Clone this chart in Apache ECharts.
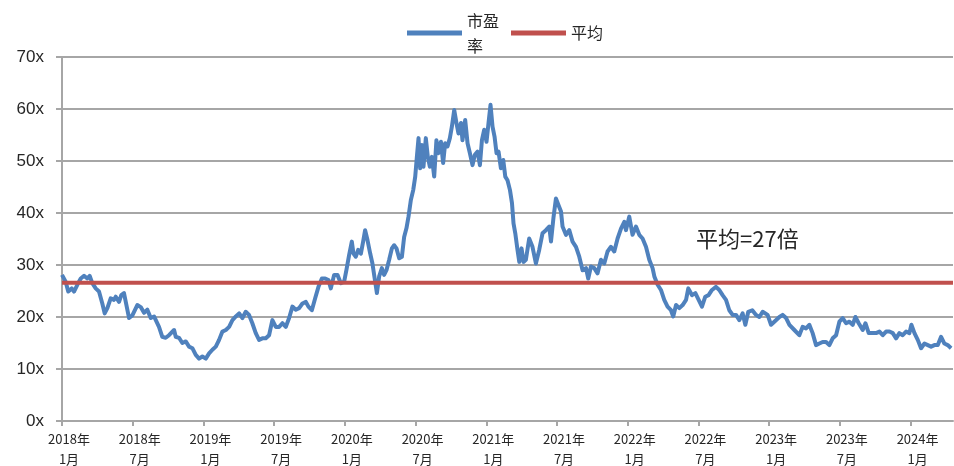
<!DOCTYPE html>
<html>
<head>
<meta charset="utf-8">
<script src="https://cdn.jsdelivr.net/npm/echarts@6/dist/echarts.min.js"></script>
<style>
  html, body { margin: 0; padding: 0; background: #fff; }
  #chart { width: 954px; height: 466px; }
</style>
</head>
<body>
<div id="chart"></div>
<script>
// Months elapsed since January 2018 for each observation
const monthOffsets = [
  0, 0.31, 0.53, 0.82, 1.02, 1.30, 1.59, 1.87, 2.15, 2.35, 2.57, 2.86, 3.14, 3.42, 3.62, 3.85,
  4.13, 4.41, 4.56, 4.84, 5.03, 5.26, 5.69, 5.97, 6.39, 6.68, 6.96, 7.24, 7.53, 7.81, 8.23, 8.51,
  8.80, 9.08, 9.51, 9.65, 9.93, 10.21, 10.50, 10.78, 11.06, 11.35, 11.63, 11.91, 12.20, 12.48, 12.76, 13.05,
  13.33, 13.61, 13.90, 14.18, 14.46, 14.75, 15.03, 15.31, 15.59, 15.87, 16.15, 16.44, 16.72, 17.00, 17.29, 17.57,
  17.85, 18.14, 18.42, 18.70, 18.99, 19.27, 19.55, 19.84,
  20.12, 20.40, 20.69, 20.91, 21.20, 21.48, 21.76, 22.05, 22.33, 22.61, 22.81, 23.09, 23.37, 23.66, 23.94, 24.13,
  24.36, 24.59, 24.73, 24.93, 25.13, 25.36, 25.55, 25.72, 25.92, 26.15, 26.34, 26.55, 26.72, 26.91, 27.14, 27.33,
  27.53, 27.76, 27.99, 28.18, 28.38, 28.61, 28.84, 29.03, 29.23, 29.40, 29.60, 29.80, 29.97, 30.11, 30.25, 30.39,
  30.53, 30.67, 30.87, 31.04, 31.21, 31.38, 31.58, 31.77, 31.94, 32.15, 32.34, 32.51, 32.71, 32.91, 33.08, 33.28,
  33.47, 33.64, 33.85, 33.98, 34.21, 34.41, 34.61, 34.83, 35.03, 35.26, 35.46, 35.63, 35.82, 36.02, 36.19, 36.36,
  36.53, 36.70, 36.87, 37.04, 37.24, 37.44, 37.61, 37.80, 38.01, 38.18, 38.31, 38.46, 38.65, 38.80, 38.99, 39.16,
  39.36,
  39.64, 39.92, 40.21, 40.49, 40.77, 41.06, 41.34, 41.49, 41.71, 41.91, 42.13, 42.34, 42.47, 42.76, 43.04, 43.32,
  43.61, 43.89, 44.17, 44.46, 44.65, 44.88, 45.16, 45.44, 45.73, 46.01, 46.29, 46.58, 46.86, 47.14, 47.43, 47.71,
  47.85, 48.13, 48.41, 48.70, 48.98, 49.26, 49.55, 49.83, 50.11, 50.26, 50.54, 50.82, 51.10, 51.38, 51.67, 51.86,
  52.10, 52.38, 52.66, 52.95, 53.14, 53.46, 53.74, 54.02, 54.30, 54.58, 54.86, 55.15, 55.49, 55.77, 56.05, 56.34,
  56.62, 56.90, 57.19, 57.47, 57.75, 57.98, 58.23,
  58.57, 58.89, 59.17, 59.45, 59.87, 60.16, 60.44, 60.87, 61.15, 61.44, 61.72, 62.14, 62.56, 62.84, 63.13, 63.41,
  63.69, 63.98, 64.26, 64.54, 64.83, 65.11, 65.39, 65.68, 65.96, 66.24, 66.53, 66.81, 67.09, 67.32, 67.60, 67.94,
  68.17, 68.45, 68.79, 69.07, 69.36, 69.64, 69.92, 70.21, 70.49, 70.77, 71.05, 71.33, 71.62, 71.90, 72.07, 72.33,
  72.61, 72.89, 73.18, 73.46, 73.74, 74.02, 74.31, 74.59, 74.87, 75.15, 75.44
];

// Price-to-earnings multiple at each observation
const peValues = [
  28.1, 26.8, 24.9, 25.5, 24.9, 26.2, 27.4, 27.9, 27.4, 27.9, 26.5, 25.5, 24.9, 22.6, 20.7, 21.7,
  23.6, 23.3, 23.9, 22.9, 24.2, 24.6, 19.8, 20.3, 22.3, 21.9, 20.8, 21.4, 19.8, 20.1, 18.1, 16.2,
  16.0, 16.5, 17.5, 16.2, 16.0, 15.0, 15.3, 14.3, 14.0, 12.7, 12.0, 12.4, 12.0, 13.0, 13.7, 14.3,
  15.6, 17.2, 17.5, 18.1, 19.4, 20.1, 20.7, 19.8, 21.0, 20.4, 18.8, 16.9, 15.6, 15.9, 15.9, 16.5,
  19.4, 18.1, 18.1, 18.8, 18.1, 19.8, 22.0, 21.4,
  21.7, 22.6, 22.9, 22.0, 21.3, 23.6, 25.8, 27.4, 27.4, 27.1, 25.5, 28.1, 28.1, 26.5, 26.8, 29.0,
  31.9, 34.5, 32.2, 31.6, 32.9, 32.2, 34.5, 36.7, 34.8, 32.2, 30.3, 27.1, 24.6, 27.8, 29.4, 28.1,
  29.0, 31.0, 33.2, 33.8, 33.2, 31.3, 31.6, 35.4, 37.1, 39.3, 42.5, 44.4, 47.0, 50.8, 54.4, 48.6,
  53.1, 48.9, 54.4, 50.8, 48.9, 50.8, 47.0, 54.0, 51.5, 53.7, 49.6, 53.4, 52.8, 54.4, 56.6, 59.8,
  57.3, 55.3, 57.3, 54.0, 57.9, 53.4, 51.5, 49.2, 51.2, 51.8, 49.2, 54.0, 56.0, 53.7, 57.3, 60.8,
  56.6, 54.7, 51.5, 51.8, 48.6, 50.2, 47.0, 46.3, 44.4, 41.9, 38.0, 36.1, 32.9, 30.6, 33.2, 30.6,
  31.0,
  35.1, 33.5, 30.3, 32.9, 36.1, 36.7, 37.4, 34.5, 39.3, 42.8, 41.5, 40.3, 37.4, 35.8, 36.7, 34.5,
  33.5, 31.6, 29.0, 29.4, 27.4, 29.7, 29.4, 28.4, 31.0, 30.3, 32.6, 33.5, 32.6, 35.1, 37.0, 38.3,
  36.7, 39.3, 35.8, 37.4, 35.8, 35.1, 33.5, 31.0, 29.4, 27.8, 26.2, 25.2, 23.3, 22.0, 21.3, 20.1,
  22.3, 21.7, 22.3, 23.3, 25.5, 24.2, 24.6, 23.3, 22.0, 23.9, 24.2, 25.2, 25.8, 25.2, 24.2, 23.3,
  21.3, 20.4, 20.4, 19.4, 20.7, 18.5, 21.0,
  21.3, 20.4, 20.0, 21.0, 20.4, 18.5, 19.1, 20.0, 20.4, 19.8, 18.5, 17.5, 16.5, 18.1, 17.8, 18.5,
  16.9, 14.6, 14.9, 15.2, 15.2, 14.6, 15.9, 16.5, 19.1, 19.8, 18.8, 19.1, 18.5, 20.0, 18.8, 17.5,
  18.8, 16.9, 16.9, 16.9, 17.2, 16.5, 17.2, 17.2, 16.9, 15.9, 16.9, 16.5, 17.2, 16.9, 18.5, 16.9,
  15.6, 14.0, 14.9, 14.6, 14.3, 14.6, 14.6, 16.2, 14.9, 14.6, 14.0
];

// Long-run average multiple
const averagePE = 26.6;

// Axis settings
const startYear = 2018;
const axisEndMonth = 75.6;
const yTicks = [0, 10, 20, 30, 40, 50, 60, 70];

const seriesNames = ['市盈率', '平均'];

const peData = monthOffsets.map((m, i) => [m, peValues[i]]);
const avgData = [[0, averagePE], [axisEndMonth, averagePE]];

const chart = echarts.init(document.getElementById('chart'), null, { renderer: 'canvas' });

const gridColor = '#A6A6A6';
const textColor = '#262626';

chart.setOption({
  animation: false,
  backgroundColor: '#ffffff',
  legend: {
    top: 3,
    left: 402,
    itemGap: 12,
    itemWidth: 55,
    itemHeight: 5,
    icon: 'rect',
    data: seriesNames,
    formatter: name => name === '市盈率' ? '市盈\n率' : name,
    textStyle: {
      fontFamily: '"Noto Sans CJK SC", sans-serif',
      fontSize: 16,
      lineHeight: 25,
      color: textColor
    }
  },
  grid: { left: 62, right: 1, top: 57, bottom: 45, outerBoundsMode: 'none' },
  xAxis: {
    type: 'value',
    min: 0,
    max: axisEndMonth,
    interval: 6,
    splitLine: { show: false },
    axisLine: { lineStyle: { color: gridColor, width: 2 } },
    axisTick: { show: true, length: 5, lineStyle: { color: gridColor, width: 2 } },
    axisLabel: {
      margin: 8,
      showMaxLabel: false,
      fontFamily: '"Noto Sans CJK SC", sans-serif',
      fontSize: 13,
      lineHeight: 20,
      color: textColor,
      padding: [0, 0, 0, 14],
      formatter: v => {
        if (Math.abs(v - Math.round(v)) > 1e-6 || v > axisEndMonth - 1) return '';
        const year = startYear + Math.floor(v / 12);
        const month = (v % 12) + 1;
        return year + '年\n' + month + '月';
      }
    }
  },
  yAxis: {
    type: 'value',
    min: yTicks[0],
    max: yTicks[yTicks.length - 1],
    interval: 10,
    axisLine: { show: true, lineStyle: { color: gridColor, width: 2 } },
    axisTick: { show: true, length: 6, lineStyle: { color: gridColor, width: 2 } },
    splitLine: { show: true, lineStyle: { color: gridColor, width: 2 } },
    axisLabel: {
      margin: 18,
      fontFamily: '"Liberation Sans", Arial, sans-serif',
      fontSize: 17,
      color: textColor,
      formatter: v => v + 'x'
    }
  },
  series: [
    {
      name: seriesNames[0],
      type: 'line',
      data: peData,
      showSymbol: false,
      symbol: 'none',
      lineStyle: { color: '#4F81BD', width: 4, join: 'round' },
      itemStyle: { color: '#4F81BD' },
      z: 2
    },
    {
      name: seriesNames[1],
      type: 'line',
      data: avgData,
      showSymbol: false,
      symbol: 'none',
      lineStyle: { color: '#C0504D', width: 4 },
      itemStyle: { color: '#C0504D' },
      z: 3
    }
  ],
  graphic: [
    {
      type: 'text',
      left: 696,
      top: 228,
      style: {
        text: '平均=' + Math.round(averagePE) + '倍',
        fontFamily: '"Noto Sans CJK SC", sans-serif',
        fontSize: 22,
        fill: textColor
      }
    }
  ]
});
</script>
</body>
</html>
